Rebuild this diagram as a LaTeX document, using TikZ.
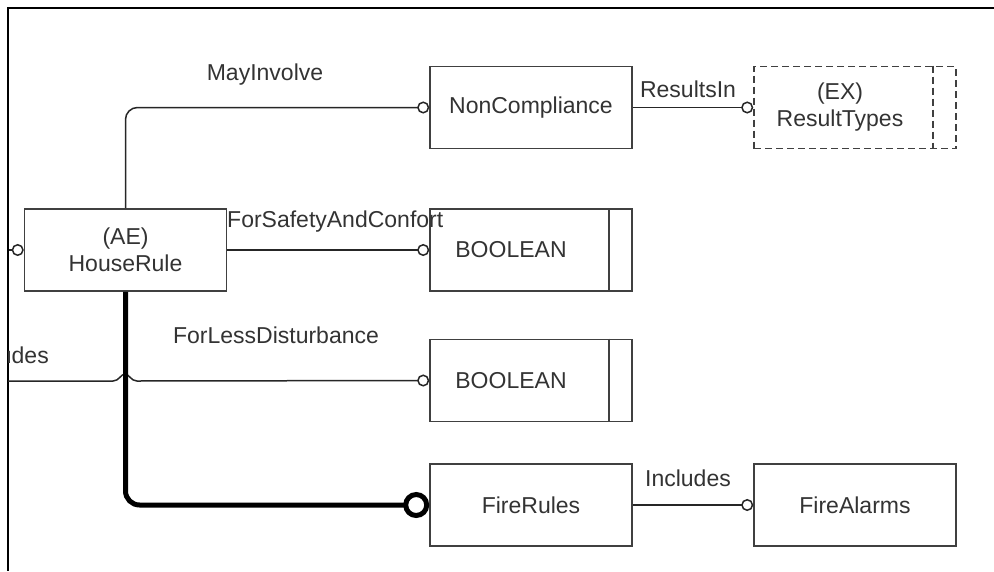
\documentclass[tikz,border=0pt]{standalone}
\usepackage{fontspec}
\setmainfont{Liberation Sans}
\usetikzlibrary{arrows.meta}

\tikzset{
  entity/.style={draw=black!75, line width=1.6pt, minimum width=202pt, minimum height=82pt, align=center, inner sep=0pt},
  extent/.style={entity, dash pattern=on 7pt off 4pt},
  strip/.style={draw=black!75, line width=1.6pt},
  conn/.style={draw=black!85, line width=1.5pt, -{Circle[open, length=12pt, fill=white]}},
  mainconn/.style={draw=black, line width=5pt, -{Circle[open, length=26pt, fill=white]}},
  rolename/.style={inner sep=1pt},
}

\begin{document}
\begin{tikzpicture}[x=1pt, y=-1pt, font=\fontsize{23pt}{27pt}\selectfont, every node/.style={text=black!80}]
    \useasboundingbox (0,0) rectangle (994,571);
    \draw[line width=1.5pt] (994,8) -- (8,8) -- (8,571);

    \node[entity] (houserule) at (125.5,250) {(AE)\\HouseRule};
    \node[entity] (noncomp) at (531,107.5) {NonCompliance};
    \node[extent] (resulttypes) at (855,107.5) {};
    \node[align=center] (resulttypestxt) at (840,107.5) {(EX)\\ResultTypes};
    \node[entity] (bool1) at (531,250) {};
    \node (bool1txt) at (511,250) {BOOLEAN};
    \node[entity] (bool2) at (531,380.5) {};
    \node (bool2txt) at (511,380.5) {BOOLEAN};
    \node[entity] (firerules) at (531,505) {FireRules};
    \node[entity] (firealarms) at (855,505) {FireAlarms};

    \draw[strip, dash pattern=on 7pt off 4pt] ([xshift=-24pt]resulttypes.north east) -- ([xshift=-24pt]resulttypes.south east);
    \draw[strip] ([xshift=-24pt]bool1.north east) -- ([xshift=-24pt]bool1.south east);
    \draw[strip] ([xshift=-24pt]bool2.north east) -- ([xshift=-24pt]bool2.south east);

    \coordinate (stub) at (9,250);
    \coordinate (inclin) at (8,381);
    \coordinate (hop) at (125,381);

    \draw[conn, rounded corners=12pt] (houserule.north) |- (noncomp.west);
    \draw[conn] (noncomp.east) -- (resulttypes.west);
    \draw[conn] (houserule.east) -- (bool1.west);
    \draw[conn] (stub) -- (houserule.west);
    \draw[conn] (inclin) -- ([xshift=-12pt]hop) .. controls ([xshift=-6pt]hop) and ([xshift=-4pt,yshift=7pt]hop) .. ([yshift=7pt]hop) .. controls ([xshift=4pt,yshift=7pt]hop) and ([xshift=6pt]hop) .. ([xshift=12pt]hop) -- (bool2.west);
    \draw[mainconn, rounded corners=14pt] (houserule.south) |- (firerules.west);
    \draw[conn] (firerules.east) -- (firealarms.west);

    \node[rolename] (mayinvolve) at (265,75) {MayInvolve};
    \node[rolename] (resultsin) at (688,89) {ResultsIn};
    \node[rolename, anchor=west] (forsafety) at (226,222) {ForSafetyAndConfort};
    \node[rolename] (forless) at (276,335) {ForLessDisturbance};
    \node[rolename] (includesfire) at (688,478) {Includes};
    \begin{scope}
        \clip (8,0) rectangle (994,571);
        \node[rolename, anchor=east] (includesleft) at (50,355) {Includes};
    \end{scope}
\end{tikzpicture}
\end{document}
